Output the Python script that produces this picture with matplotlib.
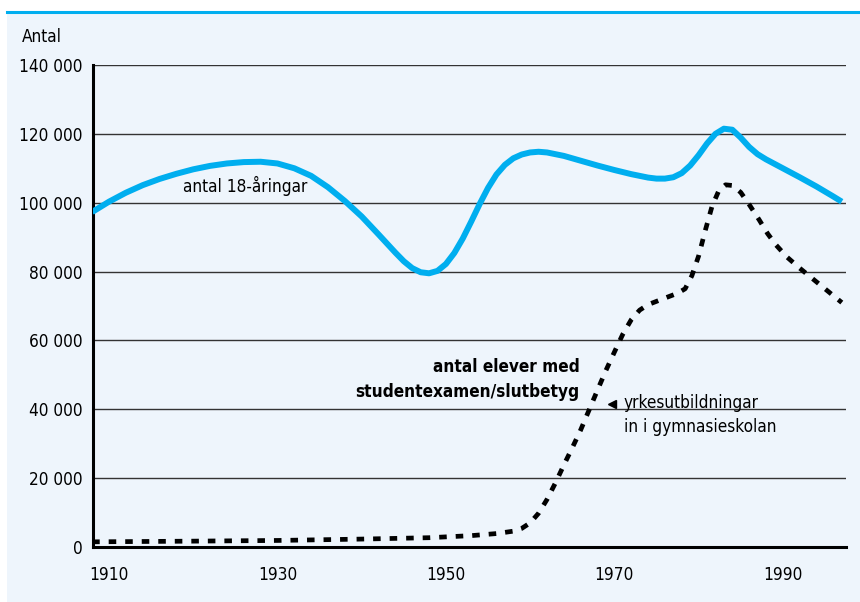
import matplotlib.pyplot as plt
from matplotlib.patches import Rectangle
from matplotlib.lines import Line2D
from matplotlib import font_manager

# antal 18-åringar
ar_18 = [1908, 1910, 1912, 1914, 1916, 1918, 1920, 1922, 1924, 1926, 1928,
         1930, 1932, 1934, 1936, 1938, 1940, 1942, 1944, 1945, 1946, 1947,
         1948, 1949, 1950, 1951, 1952, 1953, 1954, 1955, 1956, 1957, 1958,
         1959, 1960, 1961, 1962, 1964, 1966, 1968, 1970, 1972, 1974, 1975,
         1976, 1977, 1978, 1979, 1980, 1981, 1982, 1983, 1984, 1985, 1986,
         1987, 1988, 1990, 1992, 1994, 1996, 1997]
antal_18 = [97300, 100300, 102900, 105100, 106900, 108400, 109700, 110700,
            111400, 111800, 111900, 111400, 110000, 107800, 104500, 100500,
            96000, 90800, 85500, 83000, 81000, 79800, 79500, 80200, 82200,
            85400, 89600, 94500, 99600, 104300, 108200, 111000, 112900,
            114000, 114600, 114800, 114600, 113600, 112200, 110800, 109500,
            108300, 107300, 107000, 107000, 107400, 108600, 110800, 113800,
            117200, 120000, 121500, 121200, 118900, 116200, 114100, 112600,
            110000, 107400, 104700, 101800, 100300]

# antal elever med studentexamen/slutbetyg
ar_stud = [1908, 1920, 1930, 1940, 1948, 1953, 1956, 1958, 1959, 1960, 1961,
           1962, 1963, 1964, 1965, 1966, 1967, 1968, 1969, 1970, 1971, 1972,
           1973, 1974, 1976, 1977.5, 1978.4, 1979.2, 1980, 1980.8, 1981.6,
           1982.4, 1983.2, 1984, 1985, 1986, 1987.2, 1988.2, 1989.2, 1990.5,
           1992, 1994, 1995.9, 1997]
antal_stud = [1500, 1700, 1900, 2300, 2700, 3300, 3900, 4600, 5400, 7000,
              9800, 13800, 18600, 23800, 28800, 34000, 39800, 45600, 51300,
              56600, 61800, 66000, 68800, 70400, 72300, 73700, 75000, 78800,
              84500, 92000, 99000, 103500, 105200, 105000, 103000, 99500,
              95000, 91000, 87700, 84200, 81000, 77000, 73200, 71000]

x_ticks = [1910, 1930, 1950, 1970, 1990]
y_ticks = [0, 20000, 40000, 60000, 80000, 100000, 120000, 140000]
y_labels = ['0', '20 000', '40 000', '60 000', '80 000', '100 000',
            '120 000', '140 000']

# smal typsnitt om det finns
names = {f.name for f in font_manager.fontManager.ttflist}
if 'DejaVu Sans Condensed' in names:
    plt.rcParams['font.family'] = ['DejaVu Sans Condensed', 'DejaVu Sans']
else:
    plt.rcParams['font.family'] = ['DejaVu Sans']
    plt.rcParams['font.stretch'] = 'condensed'

fig = plt.figure(figsize=(8.6, 6.02), dpi=100)
bg = '#eef5fc'
cyan = '#00aeef'
fs = 12.3

# bakgrundspanel och blå linje överst
fig.patches.append(Rectangle((7/860, 0), 1, 1 - 13/602, transform=fig.transFigure,
                             facecolor=bg, edgecolor='none', zorder=-5))
fig.add_artist(Line2D([7/860, 1], [1 - 12/602, 1 - 12/602], transform=fig.transFigure,
                      color=cyan, lw=2.2))

ax = fig.add_axes([93/860, 1 - 547/602, (846 - 93)/860, (547 - 65)/602])
ax.set_facecolor(bg)

ax.set_xlim(1908.1, 1997.5)
ax.set_ylim(0, 140000)

for v in y_ticks[1:]:
    ax.axhline(v, color='#333333', lw=1.0, zorder=1)

ax.plot(ar_18, antal_18, color=cyan, lw=4.3, solid_capstyle='butt',
        solid_joinstyle='round', zorder=3)
ax.plot(ar_stud, antal_stud, color='black', lw=3.4,
        linestyle=(0, (1.6, 1.9)), dash_capstyle='butt', zorder=3)

ax.set_xticks(x_ticks)
ax.set_yticks(y_ticks)
ax.set_yticklabels(y_labels)
ax.tick_params(axis='y', length=0, pad=7.5, labelsize=fs)
ax.tick_params(axis='x', length=0, pad=14, labelsize=fs)

for s in ['top', 'right']:
    ax.spines[s].set_visible(False)
for s in ['left', 'bottom']:
    ax.spines[s].set_linewidth(2.2)
    ax.spines[s].set_color('black')

fig.text(22/860, 1 - 37/602, 'Antal', fontsize=fs, va='center', ha='left')

ax.text(1918.8, 104900, 'antal 18-åringar', fontsize=fs, va='center', ha='left')
ax.text(1965.9, 48600, 'antal elever med\nstudentexamen/slutbetyg', fontsize=fs,
        fontweight='bold', va='center', ha='right', linespacing=1.5)
ax.plot([1969.7], [41500], marker='<', color='black', markersize=5.5, zorder=4)
ax.text(1971.1, 38300, 'yrkesutbildningar\nin i gymnasieskolan', fontsize=fs,
        va='center', ha='left', linespacing=1.45)

fig.savefig('out.png', dpi=100)
